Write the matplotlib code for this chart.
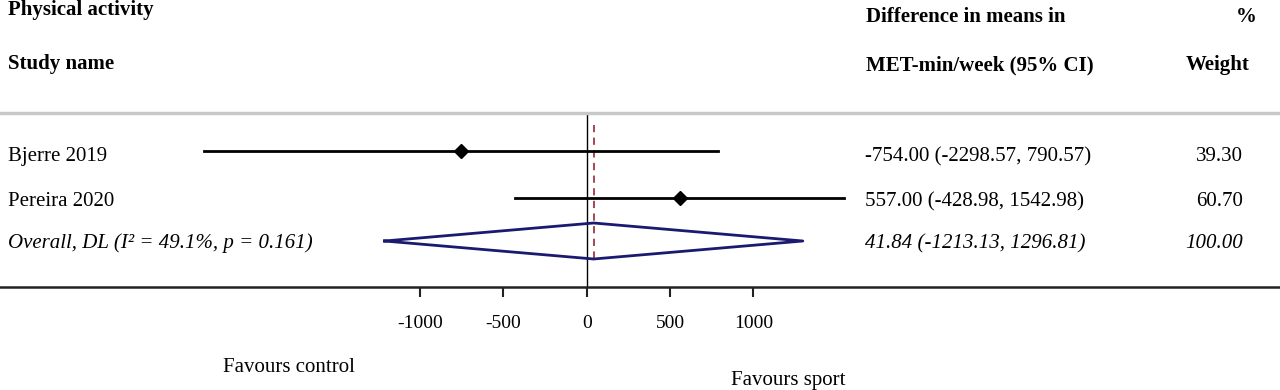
import matplotlib
matplotlib.use('Agg')
import matplotlib.pyplot as plt

# study data (difference in means, MET-min/week)
studies = ['Bjerre 2019', 'Pereira 2020']
est = [-754.00, 557.00]
lo = [-2298.57, -428.98]
hi = [790.57, 1542.98]
weights = [39.30, 60.70]

overall_label = 'Overall, DL (I² = 49.1%, p = 0.161)'
overall_est = 41.84
overall_lo = -1213.13
overall_hi = 1296.81
overall_weight = 100.00

xticks = [-1000, -500, 0, 500, 1000]

plt.rcParams['font.family'] = ['Liberation Serif', 'DejaVu Serif']
fs = 15

W, H = 1280, 390
fig = plt.figure(figsize=(W / 100, H / 100), dpi=100)

# axes spans the plot band between the grey rule (y=113px) and axis line (y=287px)
top_px, bot_px = 113, 287
ax = fig.add_axes([0, 1 - bot_px / H, 1, (bot_px - top_px) / H])
px_per_unit = 333.3 / 2000
zero_px = 586.7
ax.set_xlim(-zero_px / px_per_unit, (W - zero_px) / px_per_unit)
ax.set_ylim(bot_px, top_px)

row_y = [151, 198, 241]
text_base = [161, 206, 248]   # text baselines for each row

for s in ['left', 'right']:
    ax.spines[s].set_visible(False)
ax.spines['top'].set_color('#c8c8c8')
ax.spines['top'].set_linewidth(2.5)
ax.spines['bottom'].set_color('#222222')
ax.spines['bottom'].set_linewidth(1.8)
ax.set_yticks([])
ax.set_xticks(xticks)
ax.set_xticklabels([str(t) for t in xticks], fontsize=14)
ax.tick_params(axis='x', direction='out', length=7.5, width=1.5, pad=13, color='#222222')

ax.axvline(0, color='black', lw=1)
ax.vlines(overall_est, 125, 263, color='#9c3a44', lw=1.3, linestyles=(0, (4, 3)))

# individual studies
for i in range(len(studies)):
    ax.plot([lo[i], hi[i]], [row_y[i], row_y[i]], color='black', lw=2)
    ax.plot(est[i], row_y[i], marker='D', color='black', markersize=7)

# pooled diamond
dy = 18
ax.plot([overall_lo, overall_est, overall_hi, overall_est, overall_lo],
        [row_y[2], row_y[2] - dy, row_y[2], row_y[2] + dy, row_y[2]],
        color='#1a1a70', lw=2)

tr = ax.get_yaxis_transform()
for i in range(len(studies)):
    ax.text(8 / W, text_base[i], studies[i], transform=tr, fontsize=fs, va='baseline')
    ax.text(865 / W, text_base[i], '%.2f (%.2f, %.2f)' % (est[i], lo[i], hi[i]),
            transform=tr, fontsize=fs, va='baseline')
    ax.text(1243 / W, text_base[i], '%.2f' % weights[i], transform=tr,
            fontsize=fs, va='baseline', ha='right')

ax.text(8 / W, text_base[2], overall_label, transform=tr, fontsize=fs,
        va='baseline', style='italic')
ax.text(865 / W, text_base[2], '%.2f (%.2f, %.2f)' % (overall_est, overall_lo, overall_hi),
        transform=tr, fontsize=fs, va='baseline', style='italic')
ax.text(1243 / W, text_base[2], '%.2f' % overall_weight, transform=tr,
        fontsize=fs, va='baseline', ha='right', style='italic')

# headers
def ftext(x, y, s, **kw):
    fig.text(x / W, 1 - y / H, s, fontsize=fs, **kw)

ftext(8, 15, 'Physical activity', weight='bold', va='baseline')
ftext(8, 69, 'Study name', weight='bold', va='baseline')
ftext(866, 22, 'Difference in means in', weight='bold', va='baseline')
ftext(866, 70, 'MET-min/week (95% CI)', weight='bold', va='baseline')
ftext(1257, 22, '%', weight='bold', va='baseline', ha='right')
ftext(1250, 70, 'Weight', weight='bold', va='baseline', ha='right')

ftext(223, 367, 'Favours control', va='center')
ftext(731, 380, 'Favours sport', va='center')

fig.savefig('out.png', dpi=100)
